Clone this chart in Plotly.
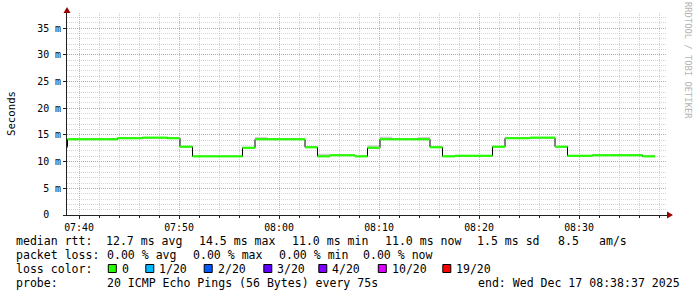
import plotly.graph_objects as go
import pandas as pd

# ---------------- data ----------------
step_start = "2025-12-17 07:37:36"   # first (partly clipped) 75 s step
step_seconds = 75
median_ms = [12.7,
             14.2, 14.2, 14.2, 14.2, 14.4, 14.4, 14.5, 14.5, 14.4, 12.8,
             11.0, 11.0, 11.0, 11.0, 12.6, 14.2, 14.2, 14.2, 14.2, 12.7,
             11.0, 11.2, 11.2, 11.0, 12.6, 14.2, 14.2, 14.2, 14.2, 12.7,
             11.0, 11.1, 11.1, 11.1, 12.8, 14.4, 14.4, 14.5, 14.5, 12.8,
             11.1, 11.1, 11.2, 11.2, 11.2, 11.2, 11.0]
smoke_hi_ms = [None,
               None, None, None, None, None, None, None, None, None, None,
               None, None, None, None, None, 14.45, None, None, None, None,
               11.3, None, None, None, 12.9, 14.5, None, None, 14.45, None,
               None, None, None, None, None, None, None, None, None, None,
               None, None, None, None, None, None, None]

y_tickvals = [0, 5, 10, 15, 20, 25, 30, 35]
y_ticktext = ["0\u00a0\u00a0", "5 m", "10 m", "15 m", "20 m", "25 m", "30 m", "35 m"]
x_range = ["2025-12-17 07:38:48", "2025-12-17 08:38:48"]
y_range = [0, 37.87]

loss_labels = ["0", "1/20", "2/20", "3/20", "4/20", "10/20", "19/20"]
loss_colors = ["#26ff00", "#00b8ff", "#0059ff", "#5e00ff", "#7e00ff", "#dd00ff", "#ff0000"]

stats_line1 = ["median rtt:", "12.7 ms avg", "14.5 ms max", "11.0 ms min",
               "11.0 ms now", "1.5 ms sd", "8.5", "am/s"]
stats_line2 = ["packet loss:", "0.00 % avg", "0.00 % max", "0.00 % min", "0.00 % now"]
probe_line = ["probe:", "20 ICMP Echo Pings (56 Bytes) every 75s",
              "end: Wed Dec 17 08:38:37 2025"]

# ---------------- build ----------------
t0 = pd.Timestamp(step_start)
edges = [t0 + pd.Timedelta(seconds=step_seconds * k) for k in range(len(median_ms) + 1)]

W, H = 697, 297
L, R, T, B = 67, 30, 13, 82
PW, PH = W - L - R, H - T - B
def X(p): return (p - L) / PW
def Y(p): return (H - B - p) / PH

FONT = "DejaVu Sans Mono"
fig = go.Figure()

# smoke
sx, sy = [], []
for k, v in enumerate(smoke_hi_ms):
    if v is not None:
        sx += [edges[k], edges[k + 1], None]
        sy += [v, v, None]
fig.add_trace(go.Scatter(x=sx, y=sy, mode="lines", line=dict(color="#d2d2d2", width=2),
                         hoverinfo="skip", showlegend=False, connectgaps=False))

# black median line (step)
fig.add_trace(go.Scatter(x=edges, y=median_ms + [median_ms[-1]], mode="lines",
                         line=dict(color="#000000", width=1, shape="hv"),
                         hoverinfo="skip", showlegend=False))

# loss-colour bars
gx, gy = [], []
for k, v in enumerate(median_ms):
    gx += [edges[k], edges[k + 1], None]
    gy += [v, v, None]
fig.add_trace(go.Scatter(x=gx, y=gy, mode="lines", line=dict(color=loss_colors[0], width=2.2),
                         hoverinfo="skip", showlegend=False, connectgaps=False))

grid_minor = "rgba(170,170,170,0.5)"
grid_major = "rgba(230,110,110,0.6)"
fig.update_layout(
    width=W, height=H, margin=dict(l=L, r=R, t=T, b=B),
    paper_bgcolor="white", plot_bgcolor="white",
    font=dict(family=FONT, color="#000000", size=10),
    xaxis=dict(type="date", range=x_range, tick0="2025-12-17 07:40:00", dtick=600000,
               tickformat="%H:%M", showgrid=True, gridcolor=grid_major, griddash="1px,1px",
               gridwidth=1, showline=True, linecolor="#222222", linewidth=1,
               ticks="outside", ticklen=3, tickcolor="#222222",
               tickfont=dict(family=FONT, size=9.9, color="#000000"),
               minor=dict(dtick=120000, tick0="2025-12-17 07:40:00", showgrid=True,
                          gridcolor=grid_minor, griddash="1px,1px", gridwidth=1,
                          ticks="outside", ticklen=2, tickcolor="#222222"),
               zeroline=False, fixedrange=True),
    yaxis=dict(range=y_range, tickvals=y_tickvals, ticktext=y_ticktext,
               showgrid=True, gridcolor=grid_major, griddash="1px,1px", gridwidth=1,
               showline=True, linecolor="#222222", linewidth=1,
               ticks="outside", ticklen=3, tickcolor="#222222",
               tickfont=dict(family=FONT, size=9.9, color="#000000"),
               minor=dict(dtick=1, tick0=0, showgrid=True, gridcolor=grid_minor,
                          griddash="1px,1px", gridwidth=1),
               zeroline=False, fixedrange=True),
)

shapes = []
# arrows
shapes.append(dict(type="path", xref="paper", yref="paper",
                   path=f"M {X(63.5)} {Y(13)} L {X(70.5)} {Y(13)} L {X(67)} {Y(7)} Z",
                   fillcolor="#9b0000", line=dict(width=0)))
shapes.append(dict(type="path", xref="paper", yref="paper",
                   path=f"M {X(667)} {Y(211.5)} L {X(667)} {Y(218.5)} L {X(673)} {Y(215)} Z",
                   fillcolor="#9b0000", line=dict(width=0)))

annotations = []
def ann(text, xp, yp, size=11.55, color="#000000", angle=0, xanchor="left"):
    annotations.append(dict(text=text, x=X(xp), y=Y(yp), xref="paper", yref="paper",
                            xanchor=xanchor, yanchor="middle", showarrow=False,
                            textangle=angle, borderpad=0, borderwidth=0,
                            font=dict(family=FONT, size=size, color=color)))

ann("Seconds", 11, 114, size=10.7, angle=-90, xanchor="center")
ann("RRDTOOL / TOBI OETIKER", 688, 60, size=8.8, color="#b4b4b4", angle=90, xanchor="center")

line1_x = [16, 106, 198.5, 291.5, 384.5, 477.3, 557.6, 599]
for s, xp in zip(stats_line1, line1_x):
    ann(s, xp, 240.8)
line2_x = [16, 106.6, 192.6, 279, 363.3]
for s, xp in zip(stats_line2, line2_x):
    ann(s, xp, 254.8)
ann("loss color:", 16, 268.8)
sq_x = [108.3, 145.8, 204.2, 263.8, 318.8, 378.3, 442.8]
for lab, col, xp in zip(loss_labels, loss_colors, sq_x):
    shapes.append(dict(type="rect", xref="paper", yref="paper",
                       x0=X(xp), x1=X(xp + 8), y0=Y(272.5), y1=Y(264.5),
                       fillcolor=col, line=dict(color="#000000", width=1)))
    ann(lab, xp + 13.5, 268.8)
probe_x = [16, 106.5, 478]
for s, xp in zip(probe_line, probe_x):
    ann(s, xp, 282.8)

fig.update_layout(shapes=shapes, annotations=annotations)
fig.write_html("out.html")
